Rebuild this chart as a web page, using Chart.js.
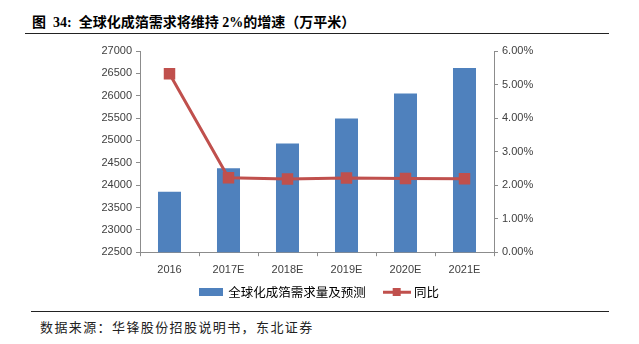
<!DOCTYPE html>
<html>
<head>
<meta charset="utf-8">
<script src="https://cdn.jsdelivr.net/npm/chart.js@4/dist/chart.umd.min.js"></script>
<style>
  body { margin: 0; background: #fff; }
  #page { position: relative; width: 639px; height: 344px; overflow: hidden; }
  #title {
    position: absolute; left: 32px; top: 11px;
    font: bold 14px "Liberation Serif", "Noto Sans CJK SC", serif;
    color: #000; white-space: nowrap;
  }
  #rule-top { position: absolute; left: 25px; top: 33px; width: 584px; height: 0; border-top: 1.5px solid #222; }
  #rule-bottom { position: absolute; left: 31px; top: 311px; width: 578px; height: 0; border-top: 1px solid #222; }
  #source {
    position: absolute; left: 40px; top: 317px;
    font: 13px "Noto Sans CJK SC", sans-serif; letter-spacing: 1.4px;
    color: #222; white-space: nowrap;
  }
  #wrap { position: absolute; left: 0; top: 40px; width: 639px; height: 268px; }
</style>
</head>
<body>
<div id="page">
  <div id="title">图&nbsp;&nbsp;34:&nbsp;&nbsp;全球化成箔需求将维持 2%的增速（万平米）</div>
  <div id="rule-top"></div>
  <div id="wrap"><canvas id="chart"></canvas></div>
  <div id="rule-bottom"></div>
  <div id="source">数据来源：华锋股份招股说明书，东北证券</div>
</div>
<script>
const categories = ['2016', '2017E', '2018E', '2019E', '2020E', '2021E'];
const demand = [23850, 24380, 24930, 25490, 26050, 26620];
const growth = [5.32, 2.22, 2.18, 2.21, 2.2, 2.19];
const demandLabel = '全球化成箔需求量及预测';
const growthLabel = '同比';

const barColor = '#4F81BD';
const lineColor = '#C0504D';
const axisColor = '#8C8C8C';
const tickFont = { family: '"Liberation Sans", Arial, sans-serif', size: 11 };

// small pictures for the legend entries
function legendBar() {
    const c = document.createElement('canvas');
    c.width = 24; c.height = 8;
    const g = c.getContext('2d');
    g.fillStyle = barColor;
    g.fillRect(0, 0, 24, 8);
    return c;
}
function legendLine() {
    const c = document.createElement('canvas');
    c.width = 28; c.height = 8;
    const g = c.getContext('2d');
    g.fillStyle = lineColor;
    g.fillRect(0, 3, 28, 3);
    g.fillRect(10, 0, 8, 8);
    return c;
}

const ctx = document.getElementById('chart').getContext('2d');
new Chart(ctx, {
    data: {
        labels: categories,
        datasets: [
            {
                type: 'line',
                label: growthLabel,
                data: growth,
                yAxisID: 'yRight',
                borderColor: lineColor,
                backgroundColor: lineColor,
                borderWidth: 3,
                pointStyle: 'rect',
                pointRadius: 6,
                pointHoverRadius: 6,
                tension: 0,
                order: 0
            },
            {
                type: 'bar',
                label: demandLabel,
                data: demand,
                yAxisID: 'yLeft',
                backgroundColor: barColor,
                barPercentage: 0.39,
                categoryPercentage: 1,
                order: 1
            }
        ]
    },
    options: {
        responsive: true,
        maintainAspectRatio: false,
        animation: false,
        layout: { padding: { top: 11, left: 0, right: 0, bottom: 0 } },
        plugins: {
            tooltip: { enabled: false },
            legend: {
                position: 'bottom',
                labels: {
                    usePointStyle: true,
                    pointStyleWidth: 22,
                    padding: 7.3,
                    color: '#333',
                    font: { family: '"Noto Sans CJK SC", sans-serif', size: 12.5 },
                    generateLabels: () => [
                        // trailing ideographic space widens the gap between the two entries
                        { text: demandLabel + '\u3000', pointStyle: legendBar(), fillStyle: barColor, strokeStyle: barColor, lineWidth: 0, datasetIndex: 1 },
                        { text: growthLabel, pointStyle: legendLine(), fillStyle: lineColor, strokeStyle: lineColor, lineWidth: 0, datasetIndex: 0 }
                    ]
                }
            }
        },
        scales: {
            x: {
                offset: true,
                grid: { display: true, drawOnChartArea: false, offset: true, color: axisColor, tickLength: 4 },
                border: { color: axisColor },
                ticks: { color: '#404040', font: tickFont, padding: 7 },
                afterFit: (scale) => { scale.height = 26; }
            },
            yLeft: {
                position: 'left',
                min: 22500,
                max: 27000,
                grid: { drawOnChartArea: false, color: axisColor, tickLength: 4 },
                border: { color: axisColor },
                ticks: { stepSize: 500, color: '#404040', font: tickFont, padding: 4, callback: (v) => String(v) },
                afterFit: (scale) => { scale.width = 140; }
            },
            yRight: {
                position: 'right',
                min: 0,
                max: 6,
                grid: { drawOnChartArea: false, color: axisColor, tickLength: 4 },
                border: { color: axisColor },
                ticks: {
                    stepSize: 1, color: '#404040', font: tickFont, padding: 4,
                    callback: (v) => v.toFixed(2) + '%'
                },
                afterFit: (scale) => { scale.width = 145; }
            }
        }
    }
});
</script>
</body>
</html>
